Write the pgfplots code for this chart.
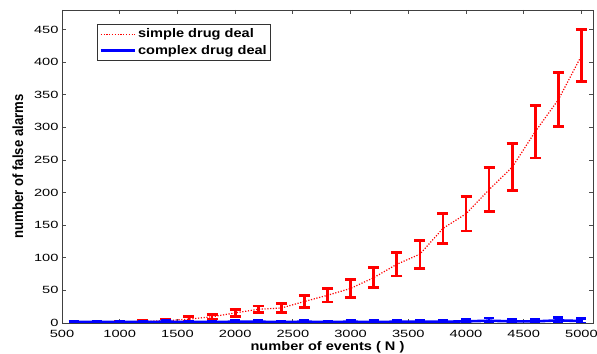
\documentclass[border=0pt]{standalone}
\usepackage{fontspec}
\setmainfont{Liberation Sans}
\usepackage{graphicx}
\usepackage{pgfplots}
\pgfplotsset{compat=1.18}
\newcommand{\hs}[1]{\scalebox{1.4}[1]{#1}}
\newcommand{\hb}[1]{\scalebox{1.17}[1]{#1}}
\pgfplotstableread{
x y e
1000 1.5 1.5
1200 2.5 2
1400 3.5 2.5
1600 6 4
1800 9.5 3.5
2000 15.5 5.5
2200 21 5
2400 23 7
2600 33 9
2800 42.5 10.5
3000 53 14
3200 69.5 15.5
3400 90 18
3600 105.5 21.5
3800 145 23
4000 167.5 26.5
4200 204.5 33.5
4400 239 36
4600 293.5 40.5
4800 342.5 41.5
5000 410 40
}\simpletab
\pgfplotstableread{
x y e
600 1.5 1.5
800 1.5 1.5
1000 1.5 1.5
1200 1.5 1.5
1400 2 2
1600 1.5 1.5
1800 1.5 1.5
2000 2 2
2200 2 2
2400 1.5 1.5
2600 2 2
2800 1.5 1.5
3000 2 2.5
3200 1.5 2
3400 2 2.5
3600 2 2.5
3800 2 2
4000 2.5 3
4200 3.5 4
4400 2.5 3.5
4600 2.5 3
4800 4 4.5
5000 3 3.5
}\complextab
\begin{document}
\begin{tikzpicture}
\useasboundingbox (-62bp,-31bp) rectangle (535bp,323bp);
\begin{axis}[
  at={(0,0)}, anchor=south west,
  scale only axis, width=531bp, height=313bp,
  xmin=500, xmax=5100, ymin=0, ymax=480,
  xtick={500,1000,...,5000}, ytick={0,50,...,450},
  tick align=inside, major tick length=4bp,
  /pgf/number format/assume math mode=true,
  /pgf/number format/1000 sep={},
  xticklabel={\hs{\pgfmathprintnumber{\tick}}},
  yticklabel={\hs{\pgfmathprintnumber{\tick}}},
  tick label style={font=\fontsize{10.5}{12}\selectfont, text=black},
  xticklabel style={anchor=center, yshift=-10.5bp},
  axis line style={black!75, line width=0.8bp},
  tick style={black!70, line width=0.8bp},
  xlabel={\hb{number of events ( N )}},
  ylabel={\scalebox{1}[1.12]{number of false alarms}},
  xlabel style={font=\bfseries\fontsize{12.5}{14}\selectfont, at={(axis description cs:0.5,-0.076)}, anchor=center},
  ylabel style={font=\bfseries\fontsize{13.2}{15}\selectfont, at={(axis description cs:-0.083,0.5)}, anchor=center},
  legend style={at={(axis description cs:0.066,0.955)}, anchor=north west,
    draw=black!80, line width=0.8bp, font=\bfseries\fontsize{12.5}{14}\selectfont,
    inner xsep=2bp, inner ysep=2.5bp, row sep=2bp},
  legend cell align=left,
  legend image code/.code={\draw[#1] (0bp,0bp) -- (34bp,0bp);},
]
\addplot[red, line width=1.2bp, dash pattern=on 1.2bp off 1.6bp, mark=none,
  error bars/.cd, y dir=both, y explicit,
  error bar style={solid, line width=2.7bp, red},
  error mark options={solid, rotate=90, mark size=5.5bp, line width=2.7bp, red}]
  table[x=x, y=y, y error=e] {\simpletab};
\addlegendentry{\hb{simple drug deal}}
\addplot[blue, line width=2.6bp, solid, mark=none,
  error bars/.cd, y dir=both, y explicit,
  error bar style={solid, line width=2.6bp, blue},
  error mark options={solid, rotate=90, mark size=5bp, line width=2.6bp, blue}]
  table[x=x, y=y, y error=e] {\complextab};
\addlegendentry{\hb{complex drug deal}}
\end{axis}
\end{tikzpicture}
\end{document}
